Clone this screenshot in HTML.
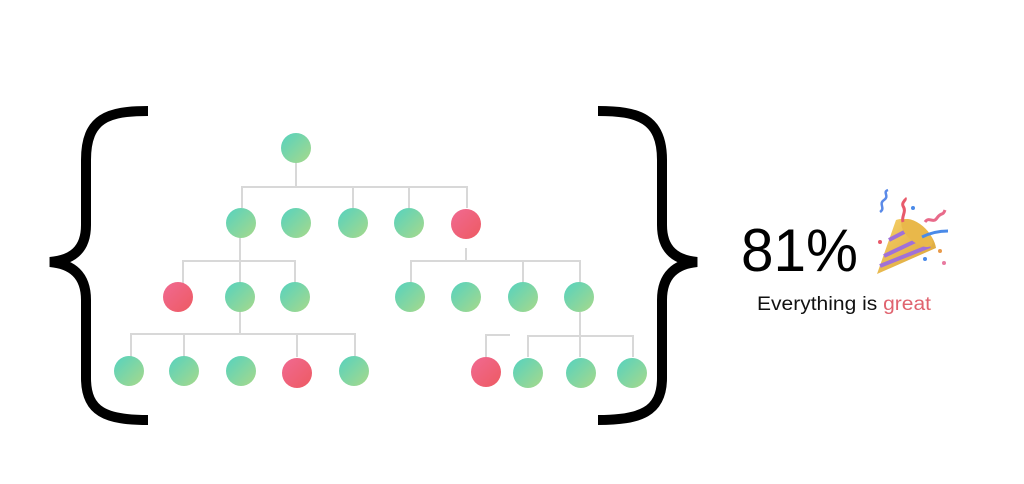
<!DOCTYPE html>
<html><head><style>
html,body{margin:0;padding:0;background:#fff;width:1024px;height:484px;overflow:hidden}
svg{display:block}
</style></head><body>
<svg width="1024" height="484" xmlns="http://www.w3.org/2000/svg">
<defs>
<linearGradient id="g" x1="0" y1="0" x2="1" y2="1"><stop offset="0" stop-color="#55d2bf"/><stop offset="1" stop-color="#a8d98a"/></linearGradient>
<linearGradient id="r" x1="0" y1="0" x2="1" y2="1"><stop offset="0" stop-color="#f06a92"/><stop offset="1" stop-color="#ee5a62"/></linearGradient>
<linearGradient id="cone" x1="0" y1="0" x2="1" y2="1"><stop offset="0" stop-color="#f7d36a"/><stop offset="1" stop-color="#d9a035"/></linearGradient>
</defs>
<path d="M148,111 C108,111 86,118 86,160 L86,225 C86,250 72,260 50,262 C72,264 86,275 86,300 L86,378 C86,412 106,420 148,420" fill="none" stroke="#000" stroke-width="10"/>
<path d="M598,111 C638,111 662,118 662,160 L662,225 C662,250 676,260 697,262 C676,264 662,275 662,300 L662,378 C662,412 640,420 598,420" fill="none" stroke="#000" stroke-width="10"/>
<g stroke="#d8d8d8" stroke-width="2" fill="none">
<path d="M296,148 V187 M242,208 V187 H467 V208 M353,187 V208 M409,187 V208"/>
<path d="M240,223 V334 M183,284 V261 H295 V283"/>
<path d="M466,248 V261 M411,283 V261 H580 V283 M523,261 V283"/>
<path d="M131,357 V334 H355 V357 M184,334 V357 M297,334 V357"/>
<path d="M486,357 V335 H510"/>
<path d="M580,312 V357 M528,357 V336 H633 V357"/>
</g>
<g fill="url(#g)">
<circle cx="296" cy="148" r="15"/>
<circle cx="241" cy="223" r="15"/><circle cx="296" cy="223" r="15"/><circle cx="353" cy="223" r="15"/><circle cx="409" cy="223" r="15"/>
<circle cx="240" cy="297" r="15"/><circle cx="295" cy="297" r="15"/>
<circle cx="410" cy="297" r="15"/><circle cx="466" cy="297" r="15"/><circle cx="523" cy="297" r="15"/><circle cx="579" cy="297" r="15"/>
<circle cx="129" cy="371" r="15"/><circle cx="184" cy="371" r="15"/><circle cx="241" cy="371" r="15"/><circle cx="354" cy="371" r="15"/>
<circle cx="528" cy="373" r="15"/><circle cx="581" cy="373" r="15"/><circle cx="632" cy="373" r="15"/>
</g>
<g fill="url(#r)">
<circle cx="466" cy="224" r="15"/><circle cx="178" cy="297" r="15"/><circle cx="297" cy="373" r="15"/><circle cx="486" cy="372" r="15"/>
</g>
<text x="741" y="271" font-family="Liberation Sans, sans-serif" font-size="60" fill="#000" textLength="117" lengthAdjust="spacingAndGlyphs">81%</text>
<text x="757" y="310" font-family="Liberation Sans, sans-serif" font-size="19" fill="#111" textLength="174" lengthAdjust="spacingAndGlyphs">Everything is <tspan fill="#e0636f">great</tspan></text>
<g>
<path d="M877,274 L896,220 C912,214 934,232 936,248 Z" fill="url(#cone)"/>
<path d="M884,256 L922,238 M880,266 L930,246 M889,240 L912,228" stroke="#a070d8" stroke-width="4"/>
<ellipse cx="917" cy="233" rx="9" ry="19" transform="rotate(-50 917 233)" fill="#e9b84a"/>
<path d="M880,212 c6,-4 -2,-8 4,-12 c6,-4 -2,-8 4,-10" stroke="#5a8ae8" stroke-width="2.5" fill="none"/>
<path d="M903,222 c-2,-6 4,-10 0,-16 c-2,-4 4,-6 2,-8" stroke="#e85a6a" stroke-width="3" fill="none"/>
<path d="M925,222 c4,-6 8,2 12,-4 c4,-6 6,-2 8,-8" stroke="#e86a8a" stroke-width="3" fill="none"/>
<path d="M922,237 c8,-4 16,-6 26,-6" stroke="#4a8ae8" stroke-width="3" fill="none"/>
<circle cx="940" cy="251" r="2" fill="#e89a4a"/><circle cx="944" cy="263" r="2" fill="#e87aa0"/><circle cx="925" cy="259" r="2" fill="#4a8ae8"/><circle cx="880" cy="242" r="2" fill="#e85a6a"/><circle cx="913" cy="208" r="2" fill="#4a8ae8"/>
</g>
</svg>
</body></html>
